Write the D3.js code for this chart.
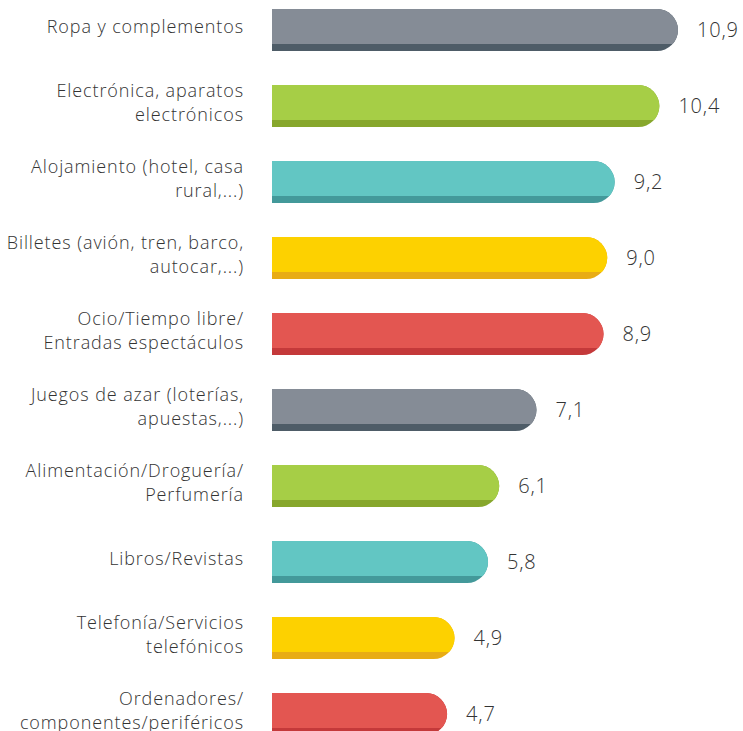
<!DOCTYPE html>
<html><head><meta charset="utf-8">
<script src="https://cdn.jsdelivr.net/npm/d3@7"></script>
<style>body{margin:0;background:#fff}svg{display:block}</style>
</head><body>
<script>
const categories = [
  ["Ropa y complementos"],
  ["Electrónica, aparatos", "electrónicos"],
  ["Alojamiento (hotel, casa", "rural,...)"],
  ["Billetes (avión, tren, barco,", "autocar,...)"],
  ["Ocio/Tiempo libre/", "Entradas espectáculos"],
  ["Juegos de azar (loterías,", "apuestas,...)"],
  ["Alimentación/Droguería/", "Perfumería"],
  ["Libros/Revistas"],
  ["Telefonía/Servicios", "telefónicos"],
  ["Ordenadores/", "componentes/periféricos"]
];
const values = [10.9, 10.4, 9.2, 9.0, 8.9, 7.1, 6.1, 5.8, 4.9, 4.7];
const valueLabels = ["10,9", "10,4", "9,2", "9,0", "8,9", "7,1", "6,1", "5,8", "4,9", "4,7"];
const lightColors = ["#858c96", "#a6ce46", "#62c6c3", "#fdd100", "#e35651"];
const darkColors  = ["#4e5c67", "#87a72c", "#43999a", "#e8ac14", "#c4393a"];

const W = 743, H = 731;
const svg = d3.select("body").append("svg").attr("width", W).attr("height", H);

const x = d3.scaleLinear().domain([0, 10.9]).range([272, 678]);
const y = d3.scaleBand().domain(d3.range(values.length)).range([-8, 752]).paddingInner(0.447).paddingOuter(0.2235);
const bh = y.bandwidth();
const stripe = 7;
const FONT = "'Open Sans', Roboto, sans-serif";

function barPath(v, top) {
  const x0 = x(0), x1 = x(v), r = bh / 2;
  const p = d3.path();
  p.moveTo(x0, top);
  p.lineTo(x1 - r, top);
  p.arc(x1 - r, top + r, r, -Math.PI / 2, Math.PI / 2);
  p.lineTo(x0, top + bh);
  p.closePath();
  return p.toString();
}

const defs = svg.append("defs");
const g = svg.selectAll("g.bar").data(values).join("g").attr("class", "bar");
g.each(function(v, i) {
  const top = y(i);
  defs.append("clipPath").attr("id", "clip" + i)
    .append("rect").attr("x", 0).attr("y", top).attr("width", W).attr("height", bh - stripe);
  const sel = d3.select(this);
  sel.append("path").attr("d", barPath(v, top)).attr("fill", darkColors[i % 5]);
  sel.append("path").attr("d", barPath(v, top)).attr("fill", lightColors[i % 5]).attr("clip-path", "url(#clip" + i + ")");
  sel.append("text")
    .attr("x", x(v) + 19).attr("y", top + bh / 2 + 7)
    .attr("font-family", FONT).attr("font-weight", 300).attr("font-size", 20)
    .attr("letter-spacing", 0.8)
    .attr("fill", "#333").text(valueLabels[i]);
  const lines = categories[i];
  const lh = 24;
  const cy = top + bh / 2 - 3;
  const t = sel.append("text")
    .attr("text-anchor", "end")
    .attr("font-family", FONT).attr("font-weight", 300).attr("font-size", 18)
    .attr("letter-spacing", 0.9)
    .attr("fill", "#333");
  lines.forEach((ln, k) => {
    t.append("tspan").attr("x", 244)
      .attr("y", cy + (k - (lines.length - 1) / 2) * lh + 6)
      .text(ln);
  });
});
</script>
</body></html>
